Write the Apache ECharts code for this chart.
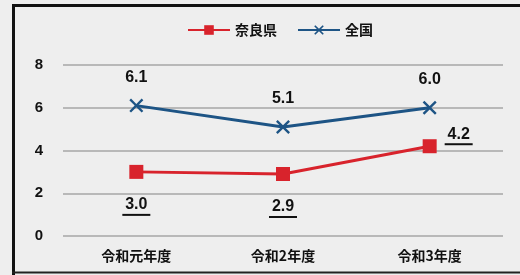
<!DOCTYPE html>
<html>
<head>
<meta charset="utf-8">
<script src="https://cdn.jsdelivr.net/npm/echarts@6/dist/echarts.min.js"></script>
<style>
  html, body { margin: 0; padding: 0; background: #eeeeee; }
  #chart { width: 520px; height: 275px; }
</style>
</head>
<body>
<div id="chart"></div>
<script>
const categories = ['令和元年度', '令和2年度', '令和3年度'];
const naraValues = [3.0, 2.9, 4.2];
const zenkokuValues = [6.1, 5.1, 6.0];
const yTicks = [0, 2, 4, 6, 8];

const crossPath = 'path://M0,1.2L1.2,0L5,3.8L8.8,0L10,1.2L6.2,5L10,8.8L8.8,10L5,6.2L1.2,10L0,8.8L3.8,5Z';
const font = '"Noto Sans CJK JP", "Noto Sans", sans-serif';
const numFont = '"Liberation Sans", Arial, sans-serif';

const labelRich = {
  t: { fontSize: 16, fontWeight: 'bold', color: '#111', fontFamily: numFont, lineHeight: 18, align: 'center' },
  u: { width: 28, height: 2, lineHeight: 2, backgroundColor: '#111', align: 'center' }
};

const chart = echarts.init(document.getElementById('chart'), null, { renderer: 'canvas' });

chart.setOption({
  backgroundColor: '#eeeeee',
  animation: false,
  graphic: [{
    type: 'polyline',
    shape: { points: [[13.5, 275], [13.5, 5.5], [520, 5.5]] },
    style: { stroke: '#111', lineWidth: 3, fill: null }
  }, {
    type: 'line',
    shape: { x1: 12, y1: 272.5, x2: 520, y2: 272.5 },
    style: { stroke: '#222', lineWidth: 2 }
  }],
  legend: {
    top: 18,
    left: 182,
    itemWidth: 42,
    itemHeight: 12,
    itemGap: 20,
    textStyle: { fontSize: 14, fontWeight: 'bold', color: '#111', fontFamily: font },
    data: ['奈良県', '全国']
  },
  grid: { left: 63, right: 17, top: 65, bottom: 39 },
  xAxis: {
    type: 'category',
    data: categories,
    axisLine: { show: false },
    axisTick: { show: false },
    axisLabel: { fontSize: 14, fontWeight: 'bold', color: '#111', fontFamily: font, margin: 13 }
  },
  yAxis: {
    type: 'value',
    min: yTicks[0],
    max: yTicks[yTicks.length - 1],
    interval: 2,
    axisLine: { show: false },
    axisTick: { show: false },
    axisLabel: { fontSize: 15, fontWeight: 'bold', color: '#111', margin: 20, fontFamily: numFont },
    splitLine: { lineStyle: { color: '#b8b8b8', width: 2 } }
  },
  series: [{
    name: '奈良県',
    type: 'line',
    data: naraValues.map((v, i) => i === naraValues.length - 1
      ? { value: v, label: { position: 'right', distance: 8, offset: [0, -11] } }
      : v),
    symbol: 'rect',
    symbolSize: 14,
    color: '#d8232c',
    lineStyle: { width: 3 },
    label: {
      show: true,
      position: 'bottom',
      distance: 17,
      formatter: p => '{t|' + p.value.toFixed(1) + '}\n{u|}',
      rich: labelRich
    }
  }, {
    name: '全国',
    type: 'line',
    data: zenkokuValues,
    symbol: crossPath,
    symbolSize: 14,
    color: '#1d5485',
    lineStyle: { width: 3 },
    label: {
      show: true,
      position: 'top',
      distance: 12,
      formatter: p => '{t|' + p.value.toFixed(1) + '}',
      rich: labelRich
    }
  }]
});
</script>
</body>
</html>
